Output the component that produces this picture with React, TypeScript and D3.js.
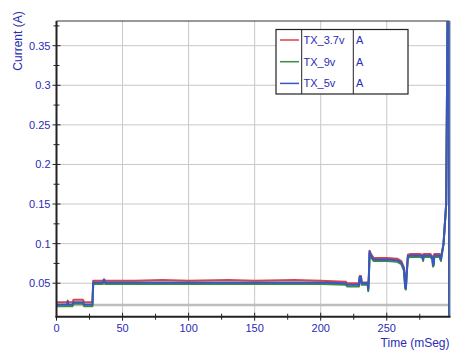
import React from "react";
import * as d3 from "d3";

const time = [0, 5, 8, 8.5, 9, 12, 13, 20, 21, 26, 27.2, 27.8, 35, 36, 37, 60, 80, 100, 130, 150, 180, 200, 219, 220, 229, 229.5, 230.5, 231, 235.5, 236, 236.5, 237, 238, 240, 250, 258, 261, 263, 264, 264.5, 265, 266, 268, 275, 277, 277.5, 278, 283, 284.5, 285, 285.5, 286, 290, 291, 293, 295, 296.5, 297, 297.2, 297.5];

const seriesRed = [0.026, 0.026, 0.026, 0.028, 0.026, 0.026, 0.029, 0.029, 0.026, 0.026, 0.026, 0.053, 0.053, 0.055, 0.053, 0.053, 0.054, 0.053, 0.054, 0.053, 0.054, 0.053, 0.052, 0.050, 0.050, 0.059, 0.059, 0.051, 0.051, 0.044, 0.062, 0.091, 0.087, 0.082, 0.082, 0.081, 0.078, 0.070, 0.047, 0.046, 0.062, 0.086, 0.087, 0.087, 0.086, 0.082, 0.087, 0.087, 0.084, 0.075, 0.076, 0.087, 0.087, 0.082, 0.10, 0.15, 0.5, 0.5, 0.0, 0.0];
const seriesGreen = [0.021, 0.021, 0.021, 0.024, 0.021, 0.021, 0.024, 0.024, 0.021, 0.021, 0.021, 0.049, 0.049, 0.051, 0.049, 0.049, 0.049, 0.049, 0.049, 0.049, 0.049, 0.049, 0.048, 0.046, 0.046, 0.056, 0.056, 0.048, 0.048, 0.040, 0.058, 0.088, 0.083, 0.078, 0.078, 0.077, 0.074, 0.066, 0.043, 0.042, 0.058, 0.082, 0.083, 0.083, 0.082, 0.078, 0.083, 0.083, 0.080, 0.071, 0.072, 0.083, 0.083, 0.078, 0.10, 0.15, 0.5, 0.5, 0.0, 0.0];
const seriesBlue = [0.023, 0.023, 0.023, 0.027, 0.023, 0.023, 0.026, 0.026, 0.023, 0.023, 0.023, 0.051, 0.051, 0.054, 0.051, 0.051, 0.051, 0.051, 0.051, 0.051, 0.051, 0.051, 0.050, 0.048, 0.048, 0.058, 0.058, 0.050, 0.050, 0.042, 0.060, 0.090, 0.085, 0.080, 0.080, 0.079, 0.076, 0.068, 0.045, 0.044, 0.060, 0.084, 0.085, 0.085, 0.084, 0.080, 0.085, 0.085, 0.082, 0.073, 0.074, 0.085, 0.085, 0.080, 0.10, 0.15, 0.5, 0.5, 0.0, 0.0];

const seriesNames = ["TX_3.7v", "TX_9v", "TX_5v"];
const seriesUnits = ["A", "A", "A"];
const seriesColors = ["#d8434b", "#3d8a42", "#3558c4"];
const seriesData = [seriesRed, seriesGreen, seriesBlue];

const xTicks = [0, 50, 100, 150, 200, 250];
const xMinor = [25, 75, 125, 175, 225, 275];
const yTicks = [0.05, 0.1, 0.15, 0.2, 0.25, 0.3, 0.35];
const yMinor = [0.075, 0.125, 0.175, 0.225, 0.275, 0.325, 0.375];
const baseLine = 0.0225;

const W = 466, H = 356;
const L = 56.5, R = 449.5, T = 21, B = 316.7;
const textColor = "#2b2bb4";
const font = "'Liberation Sans', Arial, sans-serif";

export default function App() {
  const x = d3.scaleLinear().domain([0, 297.5]).range([L, R]);
  const y = d3.scaleLinear().domain([0.0077, 0.3812]).range([B, T]);
  const line = d3.line<number>().x((_, i) => x(time[i])).y((d) => y(d));

  return (
    <svg width={W} height={H} style={{ position: "absolute", left: 0, top: 0, background: "#fff" }} fontFamily={font}>
      <defs>
        <clipPath id="plot">
          <rect x={L} y={T} width={R - L} height={B - T} />
        </clipPath>
      </defs>
      {xTicks.slice(1).map((t) => (
        <line key={"gx" + t} x1={x(t)} x2={x(t)} y1={T} y2={B} stroke="#c8c8c8" strokeWidth={1} />
      ))}
      {yTicks.map((t) => (
        <line key={"gy" + t} x1={L} x2={R} y1={y(t)} y2={y(t)} stroke="#c8c8c8" strokeWidth={1} />
      ))}
      <line x1={L} x2={R} y1={y(baseLine)} y2={y(baseLine)} stroke="#bdbdbd" strokeWidth={2.5} />
      <line x1={L} x2={R} y1={T} y2={T} stroke="#333" strokeWidth={1} />
      <line x1={R + 0.5} x2={R + 0.5} y1={T} y2={B} stroke="#a0a8b8" strokeWidth={1.5} />
      <g clipPath="url(#plot)">
        {seriesData.map((s, i) => (
          <path key={i} d={line(s) || ""} fill="none" stroke={seriesColors[i]} strokeWidth={2} strokeLinejoin="round" />
        ))}
      </g>
      <line x1={L} x2={L} y1={T} y2={B + 1} stroke="#222" strokeWidth={2} />
      <line x1={L - 1} x2={R + 1} y1={B} y2={B} stroke="#222" strokeWidth={2} />
      {yTicks.map((t) => (
        <g key={"yt" + t}>
          <line x1={L - 4} x2={L + 4} y1={y(t)} y2={y(t)} stroke="#222" strokeWidth={1} />
          <text x={L - 6} y={y(t) + 4} textAnchor="end" fontSize={11} fill={textColor}>{String(t)}</text>
        </g>
      ))}
      {yMinor.map((t) => (
        <line key={"ym" + t} x1={L - 3} x2={L + 3} y1={y(t)} y2={y(t)} stroke="#222" strokeWidth={1} />
      ))}
      {xTicks.map((t) => (
        <g key={"xt" + t}>
          <line x1={x(t)} x2={x(t)} y1={B - 4} y2={B + 4} stroke="#222" strokeWidth={1} />
          <text x={x(t)} y={B + 15} textAnchor="middle" fontSize={11} fill={textColor}>{String(t)}</text>
        </g>
      ))}
      {xMinor.map((t) => (
        <line key={"xm" + t} x1={x(t)} x2={x(t)} y1={B - 3} y2={B + 3} stroke="#222" strokeWidth={1} />
      ))}
      <text x={R} y={B + 30} textAnchor="end" fontSize={12} fill={textColor}>Time (mSeg)</text>
      <text transform={`translate(22,41) rotate(-90)`} textAnchor="middle" fontSize={12} fill={textColor}>Current (A)</text>
      <g>
        <rect x={276} y={29.5} width={132} height={64.5} fill="#fff" stroke="#222" strokeWidth={1.2} />
        <line x1={301.7} x2={301.7} y1={29.5} y2={94} stroke="#222" strokeWidth={1} />
        <line x1={353.3} x2={353.3} y1={29.5} y2={94} stroke="#222" strokeWidth={1} />
        {seriesNames.map((n, i) => {
          const cy = 40 + i * 21.7;
          return (
            <g key={n}>
              <line x1={280} x2={299} y1={cy} y2={cy} stroke={seriesColors[i]} strokeWidth={1.5} />
              <text x={303.5} y={cy + 4} fontSize={11} fill={textColor}>{n}</text>
              <text x={356} y={cy + 4} fontSize={11} fill={textColor}>{seriesUnits[i]}</text>
            </g>
          );
        })}
      </g>
    </svg>
  );
}
